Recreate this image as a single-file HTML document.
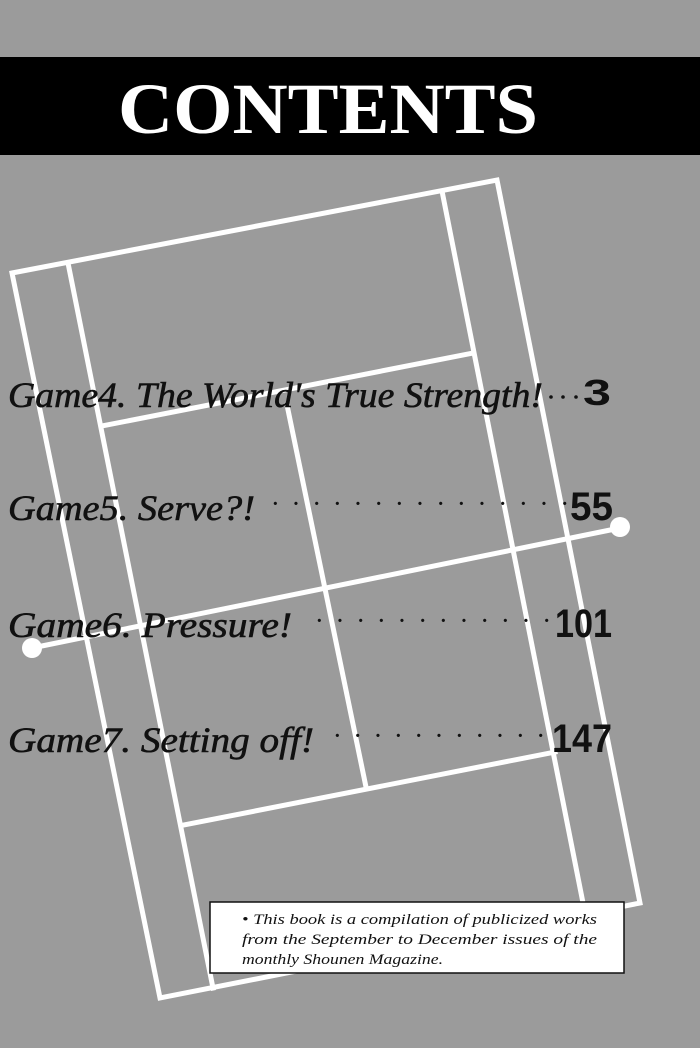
<!DOCTYPE html>
<html><head><meta charset="utf-8"><style>
html,body{margin:0;padding:0;background:#9b9b9b;}
svg{display:block}
</style></head><body>
<svg width="700" height="1048" viewBox="0 0 700 1048" xmlns="http://www.w3.org/2000/svg">
<rect width="700" height="1048" fill="#9b9b9b"/>
<rect x="0" y="57" width="700" height="98" fill="#000"/>
<text x="328" y="133" text-anchor="middle" font-family="Liberation Serif, serif" font-weight="bold" font-size="72" fill="#fff" textLength="420" lengthAdjust="spacingAndGlyphs">CONTENTS</text>
<g stroke="#fff" stroke-width="5" fill="none" stroke-linecap="square">
<polygon points="12,273 497,180 640,903 160,998"/>
<line x1="68" y1="263" x2="213" y2="988"/>
<line x1="442" y1="191" x2="585" y2="913"/>
<line x1="102" y1="426" x2="473" y2="353"/>
<line x1="184" y1="825" x2="555" y2="752"/>
<line x1="287" y1="405" x2="366" y2="787"/>
<line x1="32" y1="648" x2="620" y2="528"/>
</g>
<circle cx="32" cy="648" r="10" fill="#fff"/>
<circle cx="620" cy="527" r="10" fill="#fff"/>
<g font-family="Liberation Serif, serif" font-style="italic" font-size="36" fill="#111" stroke="#111" stroke-width="0.6">
<text x="8" y="407" textLength="535" lengthAdjust="spacingAndGlyphs">Game4. The World's True Strength!</text>
<text x="8" y="520" textLength="247" lengthAdjust="spacingAndGlyphs">Game5.  Serve?!</text>
<text x="8" y="637" textLength="284" lengthAdjust="spacingAndGlyphs">Game6.  Pressure!</text>
<text x="8" y="752" textLength="306" lengthAdjust="spacingAndGlyphs">Game7.  Setting off!</text>
</g>
<g fill="#111">
<circle cx="551" cy="397" r="1.8"/><circle cx="563" cy="397" r="1.8"/><circle cx="576" cy="397" r="1.8"/>
</g>
<g font-family="Liberation Serif, serif" font-size="20" fill="#111" font-weight="bold">
<text x="272" y="510" textLength="296" lengthAdjust="spacing">· · · · · · · · · · · · · · ·</text>
<text x="316" y="627" textLength="234" lengthAdjust="spacing">· · · · · · · · · · · ·</text>
<text x="334" y="742" textLength="210" lengthAdjust="spacing">· · · · · · · · · · ·</text>
</g>
<g font-family="Liberation Sans Narrow, Liberation Sans, sans-serif" font-weight="bold" fill="#111">
<text x="583" y="405" font-size="36" textLength="28" lengthAdjust="spacingAndGlyphs">3</text>
<text x="570" y="520" font-size="40" textLength="43" lengthAdjust="spacingAndGlyphs">55</text>
<text x="555" y="637" font-size="40" textLength="57" lengthAdjust="spacingAndGlyphs">101</text>
<text x="552" y="752" font-size="40" textLength="60" lengthAdjust="spacingAndGlyphs">147</text>
</g>
<rect x="210" y="902" width="414" height="71" fill="#fff" stroke="#111" stroke-width="1.5"/>
<g font-family="Liberation Serif, serif" font-style="italic" font-size="15" fill="#111">
<text x="242" y="924" textLength="355" lengthAdjust="spacingAndGlyphs">• This book is a compilation of publicized works</text>
<text x="242" y="944" textLength="355" lengthAdjust="spacingAndGlyphs">from the September to December issues of the</text>
<text x="242" y="964" textLength="201" lengthAdjust="spacingAndGlyphs">monthly Shounen Magazine.</text>
</g>
</svg>
</body></html>
